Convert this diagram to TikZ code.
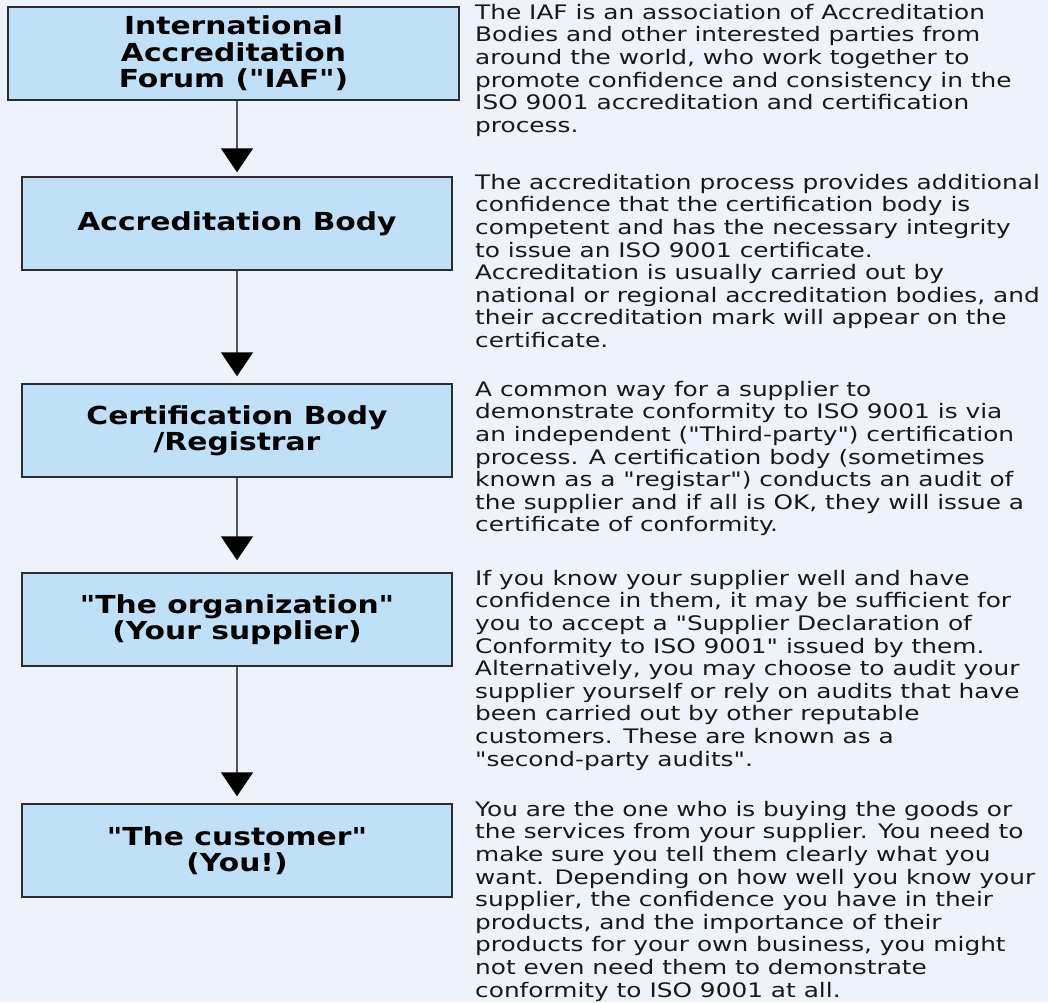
\documentclass[tikz,border=0pt]{standalone}
\usepackage{fontspec}
\usetikzlibrary{arrows.meta}
\newfontfamily\labfont{DejaVu Sans}[FakeStretch=1.2]
\newfontfamily\descfont{DejaVu Sans}[FakeStretch=1.24]
\definecolor{bgcol}{RGB}{238,242,250}
\definecolor{boxfill}{RGB}{192,224,248}
\definecolor{boxline}{RGB}{45,45,45}
\definecolor{shaft}{RGB}{85,85,85}
\definecolor{txt}{RGB}{25,25,25}
\tikzset{
  stagebox/.style={draw=boxline, line width=1.5pt, fill=boxfill, inner sep=0pt,
    minimum height=93pt, align=center, text=black,
    font=\labfont\bfseries\fontsize{24.8}{26.5}\selectfont},
  descr/.style={anchor=north west, inner sep=0pt, align=left, text=txt,
    font=\descfont\fontsize{20}{22.6}\selectfont},
  flow/.style={draw=shaft, line width=2pt,
    -{Triangle[width=32pt,length=24pt,color=black]}}
}
\begin{document}
\begin{tikzpicture}[x=1pt,y=-1pt]
\fill[bgcol] (0,0) rectangle (1048,1002);
\useasboundingbox (0,0) rectangle (1048,1002);

\node[stagebox, minimum width=451pt] (b1) at (233.5,53.5) {International\\Accreditation\\Forum ("IAF")};
\node[stagebox, minimum width=430pt] (b2) at (237,223.5) {Accreditation Body};
\node[stagebox, minimum width=430pt] (b3) at (237,430.5) {Certification Body\\/Registrar};
\node[stagebox, minimum width=430pt] (b4) at (237,619.5) {"The organization"\\(Your supplier)};
\node[stagebox, minimum width=430pt] (b5) at (237,850.5) {"The customer"\\(You!)};

\draw[flow, shorten >=4pt] (b1.south -| b2.north) -- (b2.north);
\draw[flow, shorten >=7pt] (b2.south) -- (b3.north);
\draw[flow, shorten >=12pt] (b3.south) -- (b4.north);
\draw[flow, shorten >=7pt] (b4.south) -- (b5.north);

\node[descr] (t1) at (475,3) {\rule{0pt}{16pt}The IAF is an association of Accreditation\\
Bodies and other interested parties from\\
around the world, who work together to\\
promote confidence and consistency in the\\
ISO 9001 accreditation and certification\\
process.};

\node[descr] (t2) at (475,173) {\rule{0pt}{16pt}The accreditation process provides additional\\
confidence that the certification body is\\
competent and has the necessary integrity\\
to issue an ISO 9001 certificate.\\
Accreditation is usually carried out by\\
national or regional accreditation bodies, and\\
their accreditation mark will appear on the\\
certificate.};

\node[descr] (t3) at (475,380) {\rule{0pt}{16pt}A common way for a supplier to\\
demonstrate conformity to ISO 9001 is via\\
an independent ("Third-party") certification\\
process. A certification body (sometimes\\
known as a "registar") conducts an audit of\\
the supplier and if all is OK, they will issue a\\
certificate of conformity.};

\node[descr] (t4) at (475,569) {\rule{0pt}{16pt}If you know your supplier well and have\\
confidence in them, it may be sufficient for\\
you to accept a "Supplier Declaration of\\
Conformity to ISO 9001" issued by them.\\
Alternatively, you may choose to audit your\\
supplier yourself or rely on audits that have\\
been carried out by other reputable\\
customers. These are known as a\\
"second-party audits".};

\node[descr] (t5) at (475,800) {\rule{0pt}{16pt}You are the one who is buying the goods or\\
the services from your supplier. You need to\\
make sure you tell them clearly what you\\
want. Depending on how well you know your\\
supplier, the confidence you have in their\\
products, and the importance of their\\
products for your own business, you might\\
not even need them to demonstrate\\
conformity to ISO 9001 at all.};
\end{tikzpicture}
\end{document}
